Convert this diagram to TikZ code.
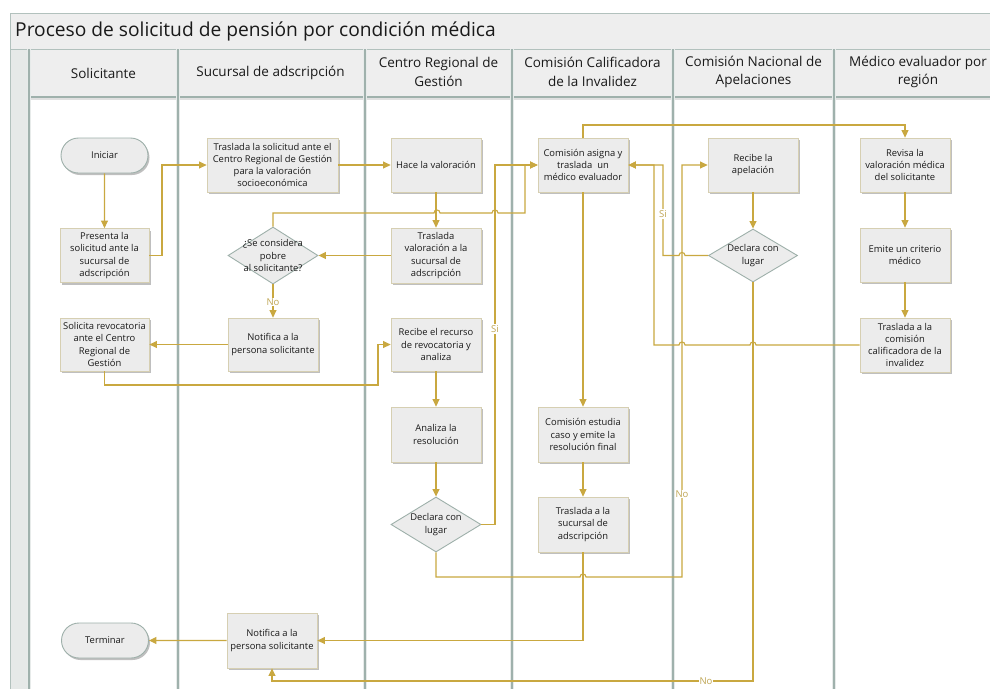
\documentclass[tikz,border=0pt]{standalone}
\usepackage{fontspec}
\setmainfont{Open Sans}
\usetikzlibrary{arrows.meta,shapes.geometric,shapes.misc,shadows}
\definecolor{gold}{HTML}{C9A840}
\definecolor{lanegr}{HTML}{9FB1AC}
\definecolor{boxfill}{HTML}{ECECEC}
\definecolor{boxbord}{HTML}{D6CFB2}
\definecolor{termbord}{HTML}{9EB0AA}
\definecolor{hdrfill}{HTML}{EEEEEE}
\definecolor{stripfill}{HTML}{E6E9E8}
\definecolor{lblc}{HTML}{BFA553}
\definecolor{txt}{HTML}{1A1A1A}
\tikzset{
  shad/.style={drop shadow={shadow xshift=1.5pt,shadow yshift=-2pt,opacity=.45,fill=black!55}},
  proc/.style={rectangle,draw=boxbord,fill=boxfill,line width=0.8pt,minimum width=90pt,minimum height=54pt,
    align=center,inner sep=1pt,text=txt,font=\fontsize{9.4}{12.3}\selectfont,shad},
  term/.style={rounded rectangle,draw=termbord,fill=boxfill,line width=0.9pt,minimum width=89pt,minimum height=35pt,
    align=center,inner sep=1pt,text=txt,font=\fontsize{9.4}{12.3}\selectfont,shad},
  dec/.style={diamond,draw=termbord,fill=boxfill,line width=0.9pt,minimum width=90pt,minimum height=55pt,inner sep=0pt},
  dectext/.style={align=center,inner sep=0pt,text=txt,font=\fontsize{9.4}{12.3}\selectfont},
  conn/.style={draw=gold,line width=1.1pt,-{Triangle[length=7.5pt,width=7pt]}},
  lbl/.style={fill=white,inner sep=1pt,text=lblc,font=\fontsize{9.5}{11}\selectfont},
  lane/.style={draw=lanegr,line width=1.8pt},
  laneshadow/.style={draw=lanegr!25,line width=4.5pt},
  hdr/.style={align=center,text=txt,font=\fontsize{13.5}{18.5}\selectfont,inner sep=0pt},
  framec/.style={draw=lanegr!80,line width=0.8pt}
}
\begin{document}
\begin{tikzpicture}[x=1pt,y=-1pt]
\useasboundingbox (0,0) rectangle (990,689);
\fill[white] (0,0) rectangle (990,689);
% frame
\fill[hdrfill] (10,13) rectangle (990,49);
\fill[stripfill] (10,49) rectangle (29,689);
\fill[hdrfill] (29,49) rectangle (990,97);
\draw[framec] (10,689) -- (10,13) -- (990,13);
\draw[framec] (10,49) -- (990,49);
\node[anchor=west,text=txt,font=\fontsize{19.2}{22}\selectfont,inner sep=0pt] (title) at (15,31) {Proceso de solicitud de pensión por condición médica};
% header bottom
\draw[draw=black!12,line width=2.5pt] (29,99) -- (990,99);
\draw[lane] (29,97) -- (990,97);
% lanes
\foreach \xx in {29,178,365,512,673,834}{
  \draw[laneshadow] (\xx,49) -- (\xx,689);
  \draw[lane] (\xx,49) -- (\xx,689);
}
% headers
\node[hdr] (h1) at (103.5,73) {Solicitante};
\node[hdr] (h2) at (270.5,73) {Sucursal de adscripción};
\node[hdr] (h3) at (438.5,72) {Centro Regional de\\Gestión};
\node[hdr] (h4) at (592.5,72) {Comisión Calificadora\\de la Invalidez};
\node[hdr] (h5) at (753.5,72) {Comisión Nacional de\\Apelaciones};
\node[hdr] (h6) at (918,72) {Médico evaluador por\\región};
% nodes
\node[term] (iniciar) at (104.5,155.5) {Iniciar};
\node[proc,minimum width=89pt] (presenta) at (104.5,255.5) {Presenta la\\solicitud ante la\\sucursal de\\adscripción};
\node[proc,minimum width=89pt,minimum height=53pt] (solrev) at (104.5,344.5) {Solicita revocatoria\\ante el Centro\\Regional de\\Gestión};
\node[term] (terminar) at (105,640.5) {Terminar};
\node[proc,minimum width=131pt] (trassol) at (272.5,165) {Traslada la solicitud ante el\\Centro Regional de Gestión\\para la valoración\\socioeconómica};
\node[dec,minimum height=57pt,label={[dectext]center:¿Se considera\\pobre\\al solicitante?}] (dec1) at (273,255.5) {};
\node[proc,minimum height=53pt] (notif1) at (273,344.5) {Notifica a la\\persona solicitante};
\node[proc,minimum height=55pt] (notif2) at (272,640.5) {Notifica a la\\persona solicitante};
\node[proc] (hace) at (436,165) {Hace la valoración};
\node[proc,minimum height=55pt] (trasval) at (436,255.5) {Traslada\\valoración a la\\sucursal de\\adscripción};
\node[proc,minimum height=53pt] (recibe) at (436,344.5) {Recibe el recurso\\de revocatoria y\\analiza};
\node[proc,minimum height=55pt] (analiza) at (436,434.5) {Analiza la\\resolución};
\node[dec,label={[dectext]center:Declara con\\lugar}] (dec2) at (436,524.5) {};
\node[proc] (comasig) at (583,165) {Comisión asigna y\\traslada\ \ un\\médico evaluador};
\node[proc,minimum height=55pt] (comest) at (583,434.5) {Comisión estudia\\caso y emite la\\resolución final};
\node[proc,minimum height=55pt] (trassuc) at (583,524.5) {Traslada a la\\sucursal de\\adscripción};
\node[proc] (recapel) at (753,165) {Recibe la\\apelación};
\node[dec,minimum width=89pt,minimum height=53pt,label={[dectext]center:Declara con\\lugar}] (dec3) at (753,255.5) {};
\node[proc] (revisa) at (905,165) {Revisa la\\valoración médica\\del solicitante};
\node[proc] (emite) at (905,255) {Emite un criterio\\médico};
\node[proc] (trascom) at (905,345) {Traslada a la\\comisión\\calificadora de la\\invalidez};
% connectors
\draw[conn] (iniciar) -- (presenta);
\draw[conn] (presenta.east) -- (162,255.5) |- (trassol.west);
\draw[conn] (trassol) -- (hace);
\draw[conn] (hace) -- (trasval);
\draw[conn] (trasval) -- (dec1);
\draw[conn] (dec1.north) |- (434,213) .. controls (434,209) and (440,209) .. (440,213) -- (492,213) .. controls (492,209) and (498,209) .. (498,213) -- (525,213) |- (comasig.west);
\draw[conn] (dec1) -- (notif1);
\draw[conn] (notif1) -- (solrev);
\draw[conn] (solrev.south) |- (378,385) |- (recibe.west);
\draw[conn] (recibe) -- (analiza);
\draw[conn] (analiza) -- (dec2);
\draw[conn] (dec2.east) -| (495,300) |- (comasig.west);
\draw[conn] (comasig.north) -- (583,125) -| (revisa.north);
\draw[conn] (comasig) -- (comest);
\draw[conn] (comest) -- (trassuc);
\draw[conn] (trassuc.south) |- (notif2.east);
\draw[conn] (dec2.south) |- (580,577) .. controls (580,573) and (586,573) .. (586,577) -- (682,577) |- (recapel.west);
\draw[conn] (recapel) -- (dec3);
\draw[conn] (dec3.west) -- (685,255.5) .. controls (685,251.5) and (679,251.5) .. (679,255.5) -- (663,255.5) |- (comasig.east);
\draw[conn] (trascom.west) -- (756,345) .. controls (756,341) and (750,341) .. (750,345) -- (685,345) .. controls (685,341) and (679,341) .. (679,345) -- (654,345) |- (comasig.east);
\draw[conn] (dec3.south) |- (300,681) -| (notif2.south);
\draw[conn] (notif2) -- (terminar);
\draw[conn] (revisa) -- (emite);
\draw[conn] (emite) -- (trascom);
% labels
\node[lbl] (lno1) at (273,302) {No};
\node[lbl] (lsi1) at (495,329) {Si};
\node[lbl] (lsi2) at (663,214) {Si};
\node[lbl] (lno2) at (682,494) {No};
\node[lbl] (lno3) at (706,681) {No};
\end{tikzpicture}
\end{document}
